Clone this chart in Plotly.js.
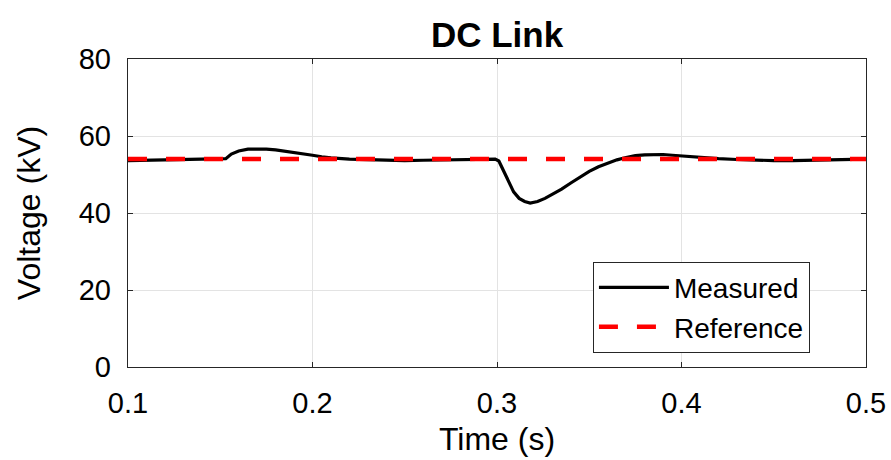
<!DOCTYPE html>
<html>
<head>
<meta charset="utf-8">
<script src="https://cdn.plot.ly/plotly-3.0.1.min.js"></script>
<style>html,body{margin:0;padding:0;background:#fff;}#chart{width:891px;height:460px;}</style>
</head>
<body>
<div id="chart"></div>
<script>
const timeS = [0.100,0.110,0.120,0.130,0.140,0.150,0.153,0.156,0.160,0.165,0.170,0.175,0.180,0.185,0.190,0.195,0.200,0.205,0.210,0.220,0.230,0.240,0.250,0.260,0.270,0.280,0.290,0.299,0.301,0.303,0.306,0.309,0.312,0.315,0.318,0.322,0.326,0.330,0.335,0.340,0.345,0.350,0.355,0.360,0.365,0.370,0.375,0.380,0.385,0.390,0.395,0.400,0.405,0.410,0.420,0.430,0.440,0.450,0.460,0.470,0.480,0.490,0.500];
const measuredKV = [53.6,53.7,53.8,53.9,54.0,54.0,54.1,55.3,56.1,56.6,56.7,56.6,56.4,56.1,55.7,55.3,55.0,54.6,54.3,54.0,53.8,53.6,53.6,53.7,53.8,53.9,54.0,54.0,53.5,51.5,48.5,45.5,43.8,43.0,42.6,43.0,43.8,44.8,46.2,47.8,49.4,50.8,52.0,53.0,53.8,54.4,54.9,55.1,55.2,55.2,55.0,54.8,54.5,54.3,54.1,53.9,53.7,53.6,53.6,53.7,53.8,53.9,54.0];
const refTime = [0.1, 0.5];
const referenceKV = [54.0, 54.0];
const xTicks = [0.1, 0.2, 0.3, 0.4, 0.5];
const xTickLabels = ['0.1', '0.2', '0.3', '0.4', '0.5'];
const yTicks = [0, 20, 40, 60, 80];
const yTickLabels = ['0', '20', '40', '60', '80'];

const font = 'Liberation Sans, Arial, Helvetica, sans-serif';
const traces = [
  {x: timeS, y: measuredKV, name: 'Measured', type: 'scatter', mode: 'lines',
   line: {color: '#000000', width: 3.2}},
  {x: refTime, y: referenceKV, name: 'Reference', type: 'scatter', mode: 'lines',
   line: {color: '#ff0000', width: 4.5, dash: '19px,19px'}}
];
const axisCommon = {
  showline: true, mirror: 'ticks', linecolor: '#262626', linewidth: 1.3,
  ticks: 'inside', ticklen: 5, tickcolor: '#262626', tickwidth: 1,
  showgrid: true, gridcolor: '#e3e3e3', gridwidth: 1, zeroline: false,
  tickfont: {family: font, size: 29, color: '#000'}
};
const layout = {
  width: 891, height: 460,
  margin: {l: 128, r: 25, t: 59, b: 93},
  paper_bgcolor: '#fff', plot_bgcolor: '#fff',
  showlegend: true,
  title: {text: '<b>DC Link</b>', font: {family: font, size: 35, color: '#000'},
          x: 0.5, xref: 'paper', xanchor: 'center', y: 0.952, yanchor: 'top'},
  xaxis: Object.assign({}, axisCommon, {
    range: [0.1, 0.5], tickvals: xTicks, ticktext: xTickLabels, ticklabelstandoff: 10,
    title: {text: 'Time (s)', font: {family: font, size: 32, color: '#000'}, standoff: 9}
  }),
  yaxis: Object.assign({}, axisCommon, {
    range: [0, 80], tickvals: yTicks, ticktext: yTickLabels, ticklabelstandoff: 10,
    title: {text: 'Voltage (kV)', font: {family: font, size: 32, color: '#000'}, standoff: 28}
  }),
  legend: {x: 0.63, y: 0.342, xanchor: 'left', yanchor: 'top',
           bgcolor: '#fff', bordercolor: '#262626', borderwidth: 1, itemwidth: 70,
           font: {family: font, size: 28, color: '#000'}, tracegroupgap: 0}
};
Plotly.newPlot('chart', traces, layout, {displayModeBar: false, staticPlot: true});
</script>
</body>
</html>
